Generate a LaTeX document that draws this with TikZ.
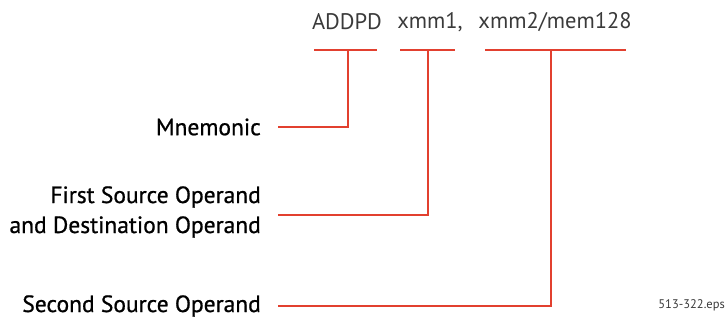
\documentclass[tikz,border=0pt]{standalone}
\usepackage{fontspec}
\setmainfont{PT Sans}
\newfontfamily\lblfont[FakeBold=0.8]{PT Sans}
\begin{document}
\begin{tikzpicture}[x=1pt,y=-1pt,
  redline/.style={draw=linered,line width=2.6pt},
  lbl/.style={anchor=east,font=\lblfont\fontsize{23.5}{30}\selectfont,inner sep=0pt,align=right,text=black},
  code/.style={font=\fontsize{22.5}{24}\selectfont,text=codegray,inner sep=0pt}]
\definecolor{linered}{HTML}{E2402F}
\definecolor{codegray}{HTML}{3A3A3A}
\useasboundingbox (0,0) rectangle (726,320);
% top instruction
\node[code] (mn) at (347,22) {ADDPD};
\node[code] (o1) at (430,22) {xmm1,};
\node[code] (o2) at (555,22) {xmm2/mem128};
% bars
\coordinate (b1l) at (314,50); \coordinate (b1r) at (377,50); \coordinate (b1m) at (348,50);
\coordinate (b2l) at (400,50); \coordinate (b2r) at (455,50); \coordinate (b2m) at (428,50);
\coordinate (b3l) at (485,50); \coordinate (b3r) at (626,50); \coordinate (b3m) at (551,50);
% labels
\node[lbl] (l1) at (261,127) {Mnemonic};
\node[lbl] (l2) at (261,212) {First Source Operand\\and Destination Operand};
\node[lbl] (l3) at (261,306) {Second Source Operand};
\coordinate (e1) at (278,127);
\coordinate (e2) at (278,215);
\coordinate (e3) at (278,306);
% connectors
\draw[redline] (b1l) -- (b1r);
\draw[redline] (b2l) -- (b2r);
\draw[redline] (b3l) -- (b3r);
\draw[redline] (b1m) |- (e1);
\draw[redline] (b2m) |- (e2);
\draw[redline] (b3m) |- (e3);
% footnote
\node[anchor=east,inner sep=0pt,font=\fontsize{12.5}{14}\selectfont,text=codegray] (fn) at (725,305) {513-322.eps};
\end{tikzpicture}
\end{document}
